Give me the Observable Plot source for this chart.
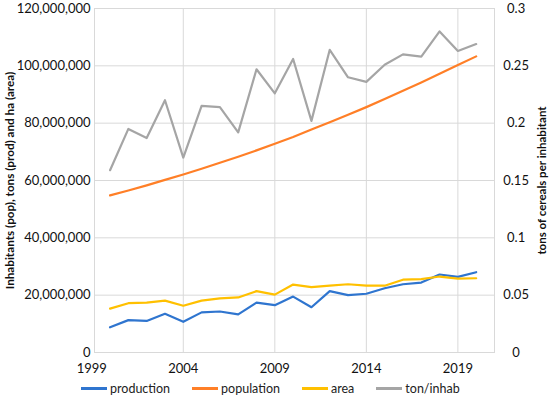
<!DOCTYPE html>
<html>
<head>
<meta charset="utf-8">
<script src="https://cdn.jsdelivr.net/npm/d3@7"></script>
<script src="https://cdn.jsdelivr.net/npm/@observablehq/plot@0.6"></script>
<style>
  html, body { margin: 0; padding: 0; background: #fff; }
  body { width: 550px; height: 399px; overflow: hidden; font-family: Lato, "Open Sans", sans-serif; }
  #legend { position: relative; height: 21px; display: flex; align-items: center; margin-left: 81px; font-size: 12.5px; color: #222; }
  .item { display: flex; align-items: center; margin-right: 22px; }
  .sw { width: 26px; height: 2.5px; margin-right: 3px; }
</style>
</head>
<body>
<div id="chart"></div>
<div id="legend"></div>
<script>
const years = [2000, 2001, 2002, 2003, 2004, 2005, 2006, 2007, 2008, 2009, 2010,
               2011, 2012, 2013, 2014, 2015, 2016, 2017, 2018, 2019, 2020];
const production = [8.8e6, 11.3e6, 11.0e6, 13.5e6, 10.7e6, 14.0e6, 14.3e6, 13.3e6, 17.4e6, 16.5e6, 19.5e6,
                    15.8e6, 21.4e6, 20.0e6, 20.5e6, 22.4e6, 23.8e6, 24.4e6, 27.2e6, 26.4e6, 28.0e6];
const population = [54.8e6, 56.5e6, 58.3e6, 60.2e6, 62.1e6, 64.1e6, 66.2e6, 68.3e6, 70.5e6, 72.8e6, 75.2e6,
                    77.8e6, 80.3e6, 82.9e6, 85.6e6, 88.4e6, 91.3e6, 94.2e6, 97.2e6, 100.3e6, 103.3e6];
const area = [15.3e6, 17.2e6, 17.4e6, 18.1e6, 16.3e6, 18.1e6, 18.9e6, 19.2e6, 21.4e6, 20.2e6, 23.7e6,
              22.8e6, 23.3e6, 23.8e6, 23.3e6, 23.3e6, 25.4e6, 25.6e6, 26.5e6, 25.8e6, 25.9e6];
const tonPerInhab = [0.159, 0.195, 0.187, 0.220, 0.170, 0.215, 0.214, 0.192, 0.247, 0.226, 0.256,
                     0.202, 0.264, 0.240, 0.236, 0.251, 0.260, 0.258, 0.280, 0.263, 0.269];

const seriesNames = ["production", "population", "area", "ton/inhab"];
const seriesColors = ["#2f75cf", "#ff7f27", "#ffc000", "#a5a5a5"];

const xTicks = [1999, 2004, 2009, 2014, 2019];
const leftTicks = [0, 20e6, 40e6, 60e6, 80e6, 100e6, 120e6];
const rightTicks = [0, 0.05, 0.1, 0.15, 0.2, 0.25, 0.3];
const leftTitle = "Inhabitants (pop), tons (prod) and ha (area)";
const rightTitle = "tons of cereals per inhabitant";

const leftMax = 120e6, rightMax = 0.3;
const factor = leftMax / rightMax;

const rows = years.map((year, i) => ({
  year,
  production: production[i],
  population: population[i],
  area: area[i],
  ton: tonPerInhab[i]
}));

const gridColor = "#d9d9d9";
const fmt = d3.format(",");

const chart = Plot.plot({
  width: 550,
  height: 378,
  marginTop: 8,
  marginBottom: 26,
  marginLeft: 94,
  marginRight: 56,
  style: { fontFamily: "Lato, 'Open Sans', sans-serif", fontSize: "13px", color: "#111", background: "#fff" },
  x: { domain: [1999.15, 2021] },
  y: { domain: [0, leftMax] },
  marks: [
    Plot.ruleY(leftTicks, { stroke: gridColor, strokeWidth: 1 }),
    Plot.ruleX(xTicks.slice(1), { stroke: gridColor, strokeWidth: 1 }),
    Plot.frame({ stroke: gridColor, strokeWidth: 1 }),
    Plot.axisY({ ticks: leftTicks, tickFormat: d => fmt(d), tickSize: 0, tickPadding: 4, label: null }),
    Plot.axisY({ anchor: "right", ticks: rightTicks.map(v => v * factor),
      tickFormat: d => String(+(d / factor).toFixed(2)), tickSize: 0, tickPadding: 0,
      textAnchor: "middle", dx: 21.6, label: null }),
    Plot.axisX({ ticks: xTicks, tickFormat: d => String(d), tickSize: 0, tickPadding: 11, label: null }),
    Plot.line(rows, { x: "year", y: "production", stroke: seriesColors[0], strokeWidth: 2.2 }),
    Plot.line(rows, { x: "year", y: "population", stroke: seriesColors[1], strokeWidth: 2.2 }),
    Plot.line(rows, { x: "year", y: "area", stroke: seriesColors[2], strokeWidth: 2.2 }),
    Plot.line(rows, { x: "year", y: d => d.ton * factor, stroke: seriesColors[3], strokeWidth: 2.2 }),
    Plot.text([leftTitle], { frameAnchor: "left", dx: -84, rotate: -90, textAnchor: "middle", fontWeight: "bold", fontSize: 11.7, fill: "#111" }),
    Plot.text([rightTitle], { frameAnchor: "right", dx: 47.5, rotate: -90, textAnchor: "middle", fontWeight: "bold", fontSize: 11.5, fill: "#111" })
  ]
});
document.getElementById("chart").appendChild(chart);

const legend = document.getElementById("legend");
seriesNames.forEach((name, i) => {
  const item = document.createElement("div");
  item.className = "item";
  const sw = document.createElement("div");
  sw.className = "sw";
  sw.style.background = seriesColors[i];
  const label = document.createElement("span");
  label.textContent = name;
  item.appendChild(sw);
  item.appendChild(label);
  legend.appendChild(item);
});
</script>
</body>
</html>
